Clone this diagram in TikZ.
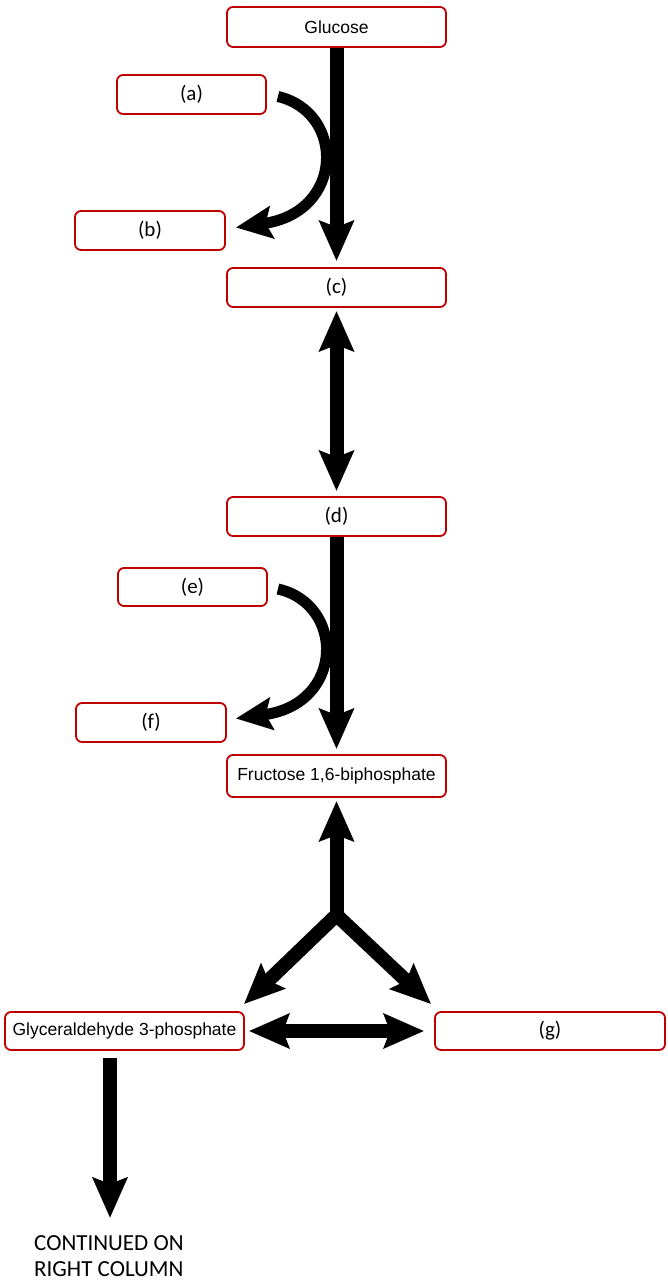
\documentclass[tikz,border=0pt]{standalone}
\usepackage{fontspec}
\setmainfont{Carlito}
\newfontfamily\arialf{Liberation Sans}
\usetikzlibrary{arrows.meta,calc}
\definecolor{boxred}{RGB}{192,0,0}
\tikzset{
  box/.style={draw=boxred, line width=1.8pt, rounded corners=6pt, fill=white, inner sep=0pt, anchor=center},
  lbl/.style={font=\fontsize{21}{24}\selectfont},
  albl/.style={font=\arialf\fontsize{17.5}{20}\selectfont},
  tip/.style={-{Stealth[length=40pt,width=34pt,inset=6pt]}},
  dtip/.style={{Stealth[length=40pt,width=34pt,inset=6pt]}-{Stealth[length=40pt,width=34pt,inset=6pt]}},
  bigarrow/.style={line width=14pt, tip},
  bigdarrow/.style={line width=14pt, dtip},
  curvarrow/.style={line width=11pt, -{Stealth[length=36pt,width=32pt,inset=6pt]}},
}
\begin{document}
\begin{tikzpicture}[x=1pt,y=-1pt]
\useasboundingbox (0,0) rectangle (667,1284);
% nodes
\node[box, albl, minimum width=219pt, minimum height=40pt] (glu) at (336.5,27) {Glucose};
\node[box, lbl, minimum width=149pt, minimum height=39pt] (a) at (191.5,94.5) {(a)};
\node[box, lbl, minimum width=150pt, minimum height=39pt] (b) at (150,230.5) {(b)};
\node[box, lbl, minimum width=219pt, minimum height=39pt] (c) at (336.5,287.5) {(c)};
\node[box, lbl, minimum width=219pt, minimum height=39pt] (d) at (336.5,516.5) {(d)};
\node[box, lbl, minimum width=149pt, minimum height=38pt] (e) at (192.5,587) {(e)};
\node[box, lbl, minimum width=150pt, minimum height=39pt] (f) at (151,722.5) {(f)};
\node[box, albl, minimum width=219pt, minimum height=42pt] (fr) at (336.5,776) {Fructose 1,6-biphosphate};
\node[box, albl, minimum width=239pt, minimum height=38pt] (gl) at (124.5,1031) {Glyceraldehyde 3-phosphate};
\node[box, lbl, minimum width=230pt, minimum height=38pt] (g) at (550,1031) {(g)};
\node[anchor=north west, align=left, font=\fontsize{23}{26}\selectfont, inner sep=0pt] (cont) at (34,1235) {CONTINUED ON\\RIGHT COLUMN};
\coordinate (j) at (336.5,915);
% connectors
\draw[bigarrow] (glu.south) -- ($(c.north)+(0,-6)$);
\draw[curvarrow] ($(a.east)+(11,2)$) .. controls (345,112) and (345,212) .. ($(b.east)+(10,-3)$);
\draw[bigdarrow] ($(c.south)+(0,3)$) -- ($(d.north)+(0,-5)$);
\draw[bigarrow] (d.south) -- ($(fr.north)+(0,-5)$);
\draw[curvarrow] ($(e.east)+(10,2)$) .. controls (345,604) and (345,704) .. ($(f.east)+(9,-4)$);
\draw[bigarrow] (j) -- ($(fr.south)+(0,3)$);
\draw[bigdarrow, line join=miter] ($(gl.north east)+(-1,-7)$) -- (j) -- ($(g.north west)+(-3,-7)$);
\draw[bigdarrow] ($(gl.east)+(4,0)$) -- ($(g.west)+(-10,0)$);
\draw[bigarrow] ($(gl.south)+(-14.5,7)$) -- ($(cont.north west)+(76,-17)$);
\end{tikzpicture}
\end{document}
